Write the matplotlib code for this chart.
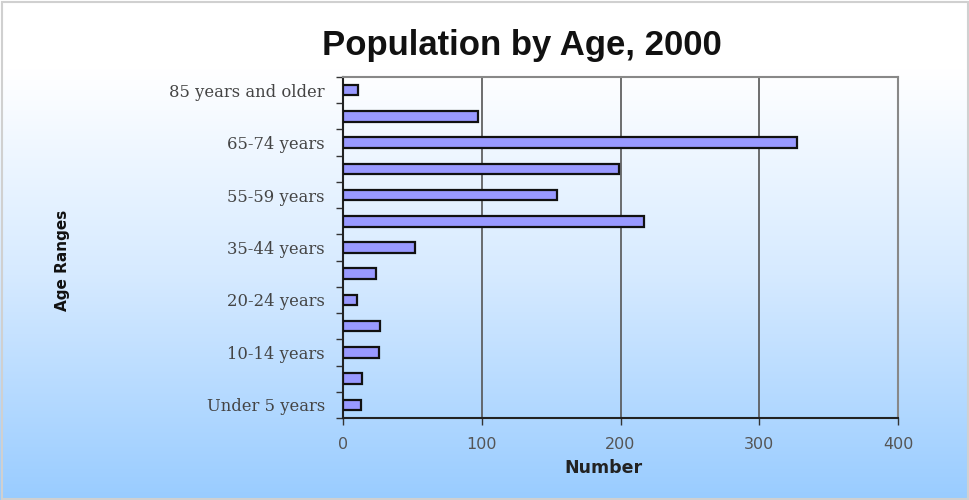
import matplotlib
matplotlib.use("Agg")
import matplotlib.pyplot as plt
import numpy as np
from matplotlib.colors import LinearSegmentedColormap

# Data
age_groups = ["Under 5 years", "5-9 years", "10-14 years", "15-19 years",
              "20-24 years", "25-34 years", "35-44 years", "45-54 years",
              "55-59 years", "60-64 years", "65-74 years", "75-84 years",
              "85 years and older"]
counts = [13, 14, 26, 27, 10, 24, 52, 217, 154, 199, 327, 97, 11]
x_ticks = [0, 100, 200, 300, 400]

fig = plt.figure(figsize=(9.7, 5.0), dpi=100)

# gradient background, white at top to light blue at bottom
bg = fig.add_axes([0, 0, 1, 1], zorder=0)
cmap = LinearSegmentedColormap.from_list(
    "bg", [(0, "#ffffff"), (0.14, "#ffffff"), (0.55, "#d6eaff"), (1, "#99ccff")])
grad = np.linspace(0, 1, 256).reshape(-1, 1)
bg.imshow(grad, aspect="auto", cmap=cmap, extent=[0, 1, 0, 1], origin="upper")
bg.set_axis_off()
bg.add_patch(plt.Rectangle((0.002, 0.003), 0.996, 0.994, fill=False,
                           edgecolor="#d0d0d0", lw=1.5, transform=bg.transAxes))

ax = fig.add_axes([0.3536, 0.164, 0.5722, 0.682], zorder=1)
ax.patch.set_alpha(0)

y = np.arange(len(age_groups))
ax.barh(y, counts, height=0.4, color="#9999ff", edgecolor="#111111", lw=1.6, zorder=3)

ax.set_xlim(0, 400)
ax.set_ylim(-0.5, len(age_groups) - 0.5)
ax.set_xticks(x_ticks)
ax.set_xticklabels([str(t) for t in x_ticks], color="#555555", fontsize=11.5,
                   family="DejaVu Sans")
ax.xaxis.grid(True, color="#555555", lw=1.2, zorder=1)
ax.tick_params(axis="x", length=5, width=1, color="#333333", pad=9)

# y labels on every other category, ticks at category boundaries
ax.set_yticks(y[::2])
ax.set_yticklabels(age_groups[::2], family="DejaVu Serif", fontsize=11.8,
                   color="#444444")
ax.tick_params(axis="y", length=0, pad=13)
ax.set_yticks(np.arange(-0.5, len(age_groups), 1), minor=True)
ax.tick_params(axis="y", which="minor", length=5, width=1, color="#333333")

for side in ["left", "bottom"]:
    ax.spines[side].set_color("#222222")
    ax.spines[side].set_linewidth(1.5)
for side in ["top", "right"]:
    ax.spines[side].set_color("#888888")
    ax.spines[side].set_linewidth(1.5)

fig.text(0.622, 0.064, "Number", fontsize=12.5, fontweight="bold",
         color="#222222", ha="center", va="center")
fig.text(0.064, 0.48, "Age Ranges", rotation=90, fontsize=11, fontweight="bold",
         color="#111111", ha="center", va="center")
fig.text(0.538, 0.91, "Population by Age, 2000", fontsize=25, fontweight="bold",
         family="Liberation Sans", ha="center", va="center", color="#111111")

fig.savefig("out.png", dpi=100)
